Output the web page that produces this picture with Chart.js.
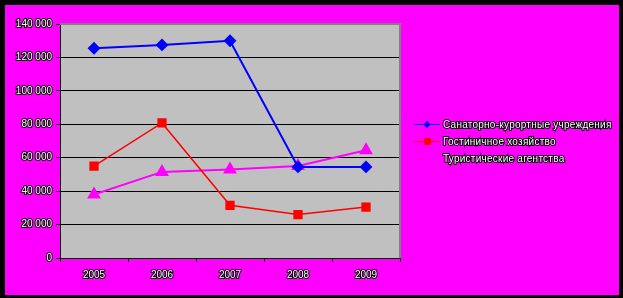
<!DOCTYPE html>
<html>
<head>
<meta charset="utf-8">
<script src="https://cdn.jsdelivr.net/npm/chart.js@4"></script>
<style>
  html, body { margin: 0; padding: 0; background: #000; }
  #wrap { width: 623px; height: 298px; position: relative; }
</style>
</head>
<body>
<div id="wrap"><canvas id="grafico" width="623" height="298"></canvas></div>
<script>
const anos = ['2005', '2006', '2007', '2008', '2009'];
const sanatorios = [125500, 127500, 130000, 54500, 54500];
const hoteis = [55000, 80800, 31500, 26000, 30500];
const agencias = [38000, 51500, 53000, 55000, 64500];
const nomes = ['Санаторно-курортные учреждения', 'Гостиничное хозяйство', 'Туристические агентства'];
const cores = ['#0000ff', '#ff0000', '#ff00ff'];

const fonte = 'Arial, "Liberation Sans", sans-serif';

// fundo: moldura preta + área magenta + área do gráfico cinza
const fundo = {
    id: 'fundo',
    beforeDraw(chart) {
        const ctx = chart.ctx;
        const a = chart.chartArea;
        ctx.save();
        ctx.fillStyle = '#000';
        ctx.fillRect(0, 0, chart.width, chart.height);
        ctx.fillStyle = '#ff00ff';
        ctx.fillRect(5, 5, 614, 290);
        ctx.fillStyle = '#c0c0c0';
        ctx.fillRect(a.left, a.top, a.right - a.left, a.bottom - a.top);
        ctx.restore();
    },
    beforeDatasetsDraw(chart) {
        const ctx = chart.ctx;
        const a = chart.chartArea;
        ctx.save();
        ctx.strokeStyle = '#808080';
        ctx.lineWidth = 2;
        ctx.beginPath();
        ctx.moveTo(a.left, a.top);
        ctx.lineTo(a.right, a.top);
        ctx.lineTo(a.right, a.bottom);
        ctx.stroke();
        ctx.restore();
    }
};

// legenda desenhada à direita
const legenda = {
    id: 'legenda',
    afterDraw(chart) {
        const ctx = chart.ctx;
        ctx.save();
        ctx.font = '10px ' + fonte;
        ctx.textBaseline = 'middle';
        if ('letterSpacing' in ctx) ctx.letterSpacing = '0.25px';
        chart.data.datasets.forEach((ds, i) => {
            const y = 124 + i * 17;
            ctx.strokeStyle = ds.borderColor;
            ctx.lineWidth = 1;
            ctx.beginPath();
            ctx.moveTo(414, y + 0.5);
            ctx.lineTo(440, y + 0.5);
            ctx.stroke();
            ctx.fillStyle = ds.borderColor;
            if (i === 0) {
                ctx.beginPath();
                ctx.moveTo(427, y - 3.5); ctx.lineTo(430.5, y + 0.5); ctx.lineTo(427, y + 4); ctx.lineTo(423.5, y + 0.5);
                ctx.closePath(); ctx.fill();
            } else if (i === 1) {
                ctx.fillRect(424, y - 3, 7, 7);
            } else {
                ctx.beginPath();
                ctx.moveTo(427, y - 3); ctx.lineTo(430, y + 3); ctx.lineTo(424, y + 3);
                ctx.closePath(); ctx.fill();
            }
            ctx.lineWidth = 2;
            ctx.strokeStyle = '#000';
            ctx.strokeText(ds.label, 443, y + 1);
            ctx.fillStyle = '#fff';
            ctx.fillText(ds.label, 443, y + 1);
        });
        ctx.restore();
    }
};

new Chart(document.getElementById('grafico').getContext('2d'), {
    type: 'line',
    data: {
        labels: anos,
        datasets: [{
            label: nomes[0],
            data: sanatorios,
            borderColor: cores[0],
            backgroundColor: cores[0],
            borderWidth: 2,
            pointStyle: 'rectRot',
            pointRadius: 5,
            pointHoverRadius: 5,
            fill: false
        }, {
            label: nomes[1],
            data: hoteis,
            borderColor: cores[1],
            backgroundColor: cores[1],
            borderWidth: 1.5,
            pointStyle: 'rect',
            pointRadius: 5.5,
            pointHoverRadius: 5.5,
            fill: false
        }, {
            label: nomes[2],
            data: agencias,
            borderColor: cores[2],
            backgroundColor: cores[2],
            borderWidth: 2,
            pointStyle: 'triangle',
            pointRadius: 6,
            pointHoverRadius: 6,
            fill: false
        }]
    },
    options: {
        responsive: false,
        animation: false,
        events: [],
        layout: { padding: { top: 24, left: 0, right: 223, bottom: 0 } },
        plugins: {
            legend: { display: false },
            tooltip: { enabled: false }
        },
        scales: {
            x: {
                offset: true,
                afterFit(scale) { scale.height = 40; },
                grid: {
                    offset: true,
                    drawOnChartArea: false,
                    color: '#000',
                    tickLength: 4,
                    tickColor: '#000'
                },
                border: { color: '#000', width: 1 },
                ticks: {
                    color: '#fff',
                    textStrokeColor: '#000',
                    textStrokeWidth: 2,
                    padding: 7,
                    font: { family: fonte, size: 10 }
                }
            },
            y: {
                min: 0,
                max: 140000,
                afterFit(scale) { scale.width = 60; },
                grid: {
                    color: (c) => c.tick && c.tick.value === 140000 ? 'rgba(0,0,0,0)' : '#000',
                    tickColor: '#000',
                    tickLength: 4,
                    lineWidth: 1
                },
                border: { color: '#000', width: 1 },
                ticks: {
                    stepSize: 20000,
                    color: '#fff',
                    textStrokeColor: '#000',
                    textStrokeWidth: 2,
                    padding: 4,
                    font: { family: fonte, size: 10 },
                    callback: (v) => v === 0 ? '0' : (v / 1000) + ' 000'
                }
            }
        }
    },
    plugins: [fundo, legenda]
});
</script>
</body>
</html>
